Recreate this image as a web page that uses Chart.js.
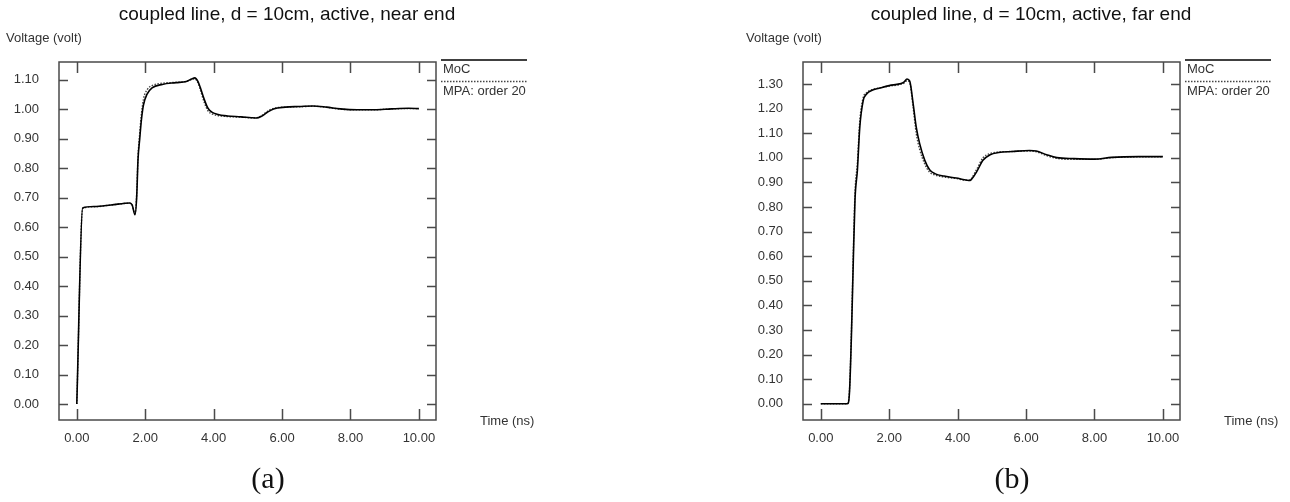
<!DOCTYPE html>
<html>
<head>
<meta charset="utf-8">
<script src="https://cdn.jsdelivr.net/npm/chart.js@4/dist/chart.umd.min.js"></script>
<style>
    body { margin: 0; background: #fff; width: 1290px; height: 502px; position: relative; overflow: hidden; }
    canvas { position: absolute; top: 0; }
    #chart-a { left: 0; }
    #chart-b { left: 744px; }
    .caption { position: absolute; top: 461px; width: 80px; text-align: center; font: 30px "Liberation Serif", serif; color: #111; }
</style>
</head>
<body>
<canvas id="chart-a" width="546" height="502"></canvas>
<canvas id="chart-b" width="546" height="502"></canvas>
<div class="caption" style="left: 228px;">(a)</div>
<div class="caption" style="left: 972px;">(b)</div>
<script>
// tick labels
const x_ticks = [0, 2, 4, 6, 8, 10];
const y_ticks_a = [0, 0.1, 0.2, 0.3, 0.4, 0.5, 0.6, 0.7, 0.8, 0.9, 1.0, 1.1];
const y_ticks_b = [0, 0.1, 0.2, 0.3, 0.4, 0.5, 0.6, 0.7, 0.8, 0.9, 1.0, 1.1, 1.2, 1.3];
const series_labels = ["MoC", "MPA: order 20"];

// (a) near end
const time_a = [0, 0.17, 0.5, 1.0, 1.55, 1.62, 1.70, 1.75, 1.79, 1.84, 1.89, 1.95, 2.05, 2.2, 2.5, 2.9, 3.2, 3.35, 3.45, 3.54, 3.62, 3.72, 3.83, 3.95, 4.1, 4.4, 4.8, 5.1, 5.25, 5.4, 5.55, 5.75, 6.1, 6.5, 6.9, 7.3, 7.7, 8.2, 8.7, 9.2, 9.7, 10];
const moc_a = [0, 0.665, 0.670, 0.675, 0.682, 0.675, 0.642, 0.70, 0.83, 0.90, 0.965, 1.015, 1.05, 1.072, 1.084, 1.090, 1.094, 1.102, 1.106, 1.094, 1.070, 1.035, 1.004, 0.99, 0.983, 0.977, 0.974, 0.971, 0.970, 0.976, 0.988, 1.001, 1.007, 1.009, 1.011, 1.007, 1.001, 0.998, 0.998, 1.001, 1.003, 1.002];
const mpa_a = [0, 0.663, 0.669, 0.675, 0.681, 0.674, 0.645, 0.71, 0.84, 0.92, 0.985, 1.035, 1.065, 1.080, 1.088, 1.091, 1.094, 1.100, 1.103, 1.090, 1.062, 1.025, 0.995, 0.984, 0.979, 0.975, 0.973, 0.971, 0.971, 0.978, 0.991, 1.003, 1.007, 1.008, 1.010, 1.006, 1.000, 0.998, 0.998, 1.001, 1.002, 1.002];

// (b) far end
const time_b = [0, 0.4, 0.78, 0.84, 0.90, 0.95, 1.0, 1.07, 1.14, 1.24, 1.34, 1.5, 1.7, 2.0, 2.3, 2.43, 2.52, 2.6, 2.7, 2.79, 2.89, 3.04, 3.18, 3.35, 3.6, 3.96, 4.2, 4.32, 4.4, 4.55, 4.74, 4.95, 5.2, 5.6, 6.1, 6.3, 6.6, 6.9, 7.4, 8.0, 8.5, 9.3, 10];
const moc_b = [0, 0, 0, 0.05, 0.30, 0.58, 0.83, 0.95, 1.125, 1.233, 1.260, 1.275, 1.283, 1.294, 1.301, 1.308, 1.321, 1.312, 1.220, 1.125, 1.058, 0.990, 0.952, 0.935, 0.926, 0.918, 0.911, 0.908, 0.912, 0.942, 0.990, 1.013, 1.022, 1.026, 1.030, 1.028, 1.013, 1.001, 0.997, 0.995, 1.002, 1.005, 1.005];
const mpa_b = [0, 0, 0, 0.06, 0.32, 0.61, 0.86, 0.98, 1.15, 1.245, 1.265, 1.278, 1.284, 1.292, 1.298, 1.304, 1.314, 1.305, 1.205, 1.10, 1.035, 0.975, 0.942, 0.930, 0.922, 0.916, 0.910, 0.909, 0.916, 0.952, 1.000, 1.018, 1.024, 1.026, 1.028, 1.025, 1.009, 0.998, 0.994, 0.994, 1.001, 1.004, 1.004];

const FONT = '"Liberation Sans", Arial, sans-serif';
const TEXT = '#333';
const FRAME = '#4a4a4a';

// frame with inward ticks, axis names, title and legend
const frame_plugin = {
    id: 'frame',
    afterDraw(chart, args, opts) {
        let ctx = chart.ctx;
        let a = chart.chartArea;
        let x = chart.scales.x;
        let y = chart.scales.y;
        ctx.save();

        ctx.strokeStyle = FRAME;
        ctx.lineWidth = 1.5;
        ctx.strokeRect(a.left, a.top, a.right - a.left, a.bottom - a.top);
        ctx.beginPath();
        x.ticks.forEach((t) => {
            let px = Math.round(x.getPixelForValue(t.value)) + 0.5;
            ctx.moveTo(px, a.top); ctx.lineTo(px, a.top + 11);
            ctx.moveTo(px, a.bottom); ctx.lineTo(px, a.bottom - 11);
        });
        y.ticks.forEach((t) => {
            let py = Math.round(y.getPixelForValue(t.value)) + 0.5;
            ctx.moveTo(a.left, py); ctx.lineTo(a.left + 9, py);
            ctx.moveTo(a.right, py); ctx.lineTo(a.right - 9, py);
        });
        ctx.stroke();

        // title
        ctx.fillStyle = '#111';
        ctx.font = `19px ${FONT}`;
        ctx.textAlign = 'center';
        ctx.textBaseline = 'middle';
        ctx.fillText(opts.title, opts.title_x, 15);

        // axis names
        ctx.fillStyle = TEXT;
        ctx.font = `13px ${FONT}`;
        ctx.textAlign = 'left';
        ctx.fillText(opts.y_name, opts.y_name_x, 38);
        ctx.fillText(opts.x_name, a.right + 44, a.bottom + 1);

        // legend
        let lx = a.right + 5;
        chart.data.datasets.forEach((ds, i) => {
            let ly = 60 + i * 21.5;
            ctx.strokeStyle = ds.borderColor;
            ctx.lineWidth = ds.borderWidth;
            ctx.setLineDash(ds.borderDash || []);
            ctx.beginPath();
            ctx.moveTo(lx, ly);
            ctx.lineTo(lx + 86, ly);
            ctx.stroke();
            ctx.setLineDash([]);
            ctx.fillStyle = TEXT;
            ctx.fillText(ds.label, lx + 2, ly + 9.5);
        });
        ctx.restore();
    }
};

function make_chart(id, time, moc, mpa, y_ticks, y_max, y_min, title, y_name_x) {
    let el = document.getElementById(id);
    let to_points = (vals) => vals.map((v, i) => ({ x: time[i], y: v }));
    return new Chart(el, {
        type: 'line',
        data: {
            datasets: [{
                label: series_labels[0],
                data: to_points(moc),
                borderColor: '#000',
                borderWidth: 1.6,
                pointRadius: 0,
                cubicInterpolationMode: 'monotone',
                order: 1
            }, {
                label: series_labels[1],
                data: to_points(mpa),
                borderColor: '#444',
                borderWidth: 1.4,
                borderDash: [1.5, 1.5],
                pointRadius: 0,
                cubicInterpolationMode: 'monotone',
                order: 2
            }]
        },
        options: {
            responsive: false,
            animation: false,
            layout: { padding: { left: 0, right: 110, top: 62, bottom: 52 } },
            plugins: {
                legend: { display: false },
                tooltip: { enabled: false },
                frame: { title: title, title_x: 287, y_name: 'Voltage (volt)', y_name_x: y_name_x, x_name: 'Time (ns)' }
            },
            scales: {
                x: {
                    type: 'linear',
                    min: -0.52,
                    max: 10.5,
                    grid: { display: false, drawTicks: false },
                    border: { display: false },
                    afterBuildTicks: (s) => { s.ticks = x_ticks.map((v) => ({ value: v })); },
                    afterFit: (s) => { s.height = 30; },
                    ticks: {
                        padding: 11,
                        color: TEXT,
                        font: { family: FONT, size: 13 },
                        maxRotation: 0,
                        callback: (v) => v.toFixed(2)
                    }
                },
                y: {
                    type: 'linear',
                    min: y_min,
                    max: y_max,
                    grid: { display: false, drawTicks: false },
                    border: { display: false },
                    afterBuildTicks: (s) => { s.ticks = y_ticks.map((v) => ({ value: v })); },
                    afterFit: (s) => { s.width = 59; },
                    ticks: {
                        padding: 20,
                        color: TEXT,
                        font: { family: FONT, size: 13 },
                        callback: (v) => v.toFixed(2)
                    }
                }
            }
        },
        plugins: [frame_plugin]
    });
}

make_chart('chart-a', time_a, moc_a, mpa_a, y_ticks_a, 1.160, -0.054, 'coupled line, d = 10cm, active, near end', 6);
make_chart('chart-b', time_b, moc_b, mpa_b, y_ticks_b, 1.390, -0.066, 'coupled line, d = 10cm, active, far end', 2);
</script>
</body>
</html>
